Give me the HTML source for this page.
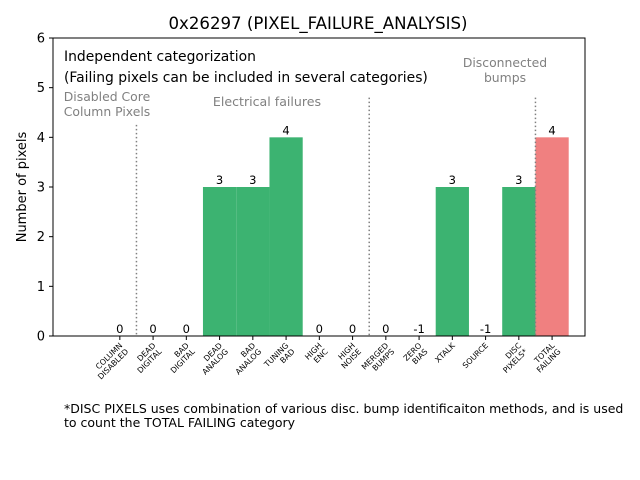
<!DOCTYPE html>
<html><head><meta charset="utf-8"><style>body{margin:0;background:#fff}svg{display:block;font-family:"DejaVu Sans","Liberation Sans",sans-serif}</style></head>
<body>
<svg id="c" width="640" height="480">
<rect width="640" height="480" fill="#fff"/>
<text x="318" y="29" font-size="16.6" text-anchor="middle">0x26297 (PIXEL_FAILURE_ANALYSIS)</text>
<g id="plot"></g>
<rect x="53" y="38" width="532" height="298" fill="none" stroke="#000" stroke-width="1"/>
<text x="0" y="0" font-size="13" text-anchor="middle" transform="translate(26,187) rotate(-90)">Number of pixels</text>
<text x="64" y="61" font-size="13.9">Independent categorization</text>
<text x="64" y="82" font-size="13.9">(Failing pixels can be included in several categories)</text>
<text x="107" y="101" font-size="12.4" fill="#808080" text-anchor="middle"><tspan x="107">Disabled Core</tspan><tspan x="107" dy="15">Column Pixels</tspan></text>
<text x="267" y="106" font-size="12.6" fill="#808080" text-anchor="middle">Electrical failures</text>
<text x="505" y="67" font-size="12.4" fill="#808080" text-anchor="middle"><tspan x="505">Disconnected</tspan><tspan x="505" dy="15">bumps</tspan></text>
<text x="64" y="413" font-size="12.5"><tspan x="64">*DISC PIXELS uses combination of various disc. bump identificaiton methods, and is used</tspan><tspan x="64" dy="14">to count the TOTAL FAILING category</tspan></text>
</svg>
<script>
const categories=[["COLUMN","DISABLED"],["DEAD","DIGITAL"],["BAD","DIGITAL"],["DEAD","ANALOG"],["BAD","ANALOG"],["TUNING","BAD"],["HIGH","ENC"],["HIGH","NOISE"],["MERGED","BUMPS"],["ZERO","BIAS"],["XTALK"],["SOURCE"],["DISC","PIXELS*"],["TOTAL","FAILING"]];
const values=[0,0,0,3,3,4,0,0,0,-1,3,-1,3,4];
const yTicks=[0,1,2,3,4,5,6];
const dividers=[0.5,7.5,12.5];
const dividerTops=[4.25,4.8,4.8];
const NS="http://www.w3.org/2000/svg";
const g=document.getElementById('plot');
const X0=53,X1=585,Y0=336,Y1=38;
const xs=i=>X0+(i+2.01)/16*(X1-X0);
const ys=v=>Y0-(v-0)/6*(Y0-Y1);
const bw=33.25;
function mk(t,a){const e=document.createElementNS(NS,t);for(const k in a)e.setAttribute(k,a[k]);g.appendChild(e);return e;}
values.forEach((v,i)=>{
  if(v>0){const r=mk('rect',{x:xs(i)-bw/2,y:ys(v),width:bw,height:ys(0)-ys(v),fill:i===values.length-1?'#f08080':'#3cb371'});
  
  }
  const t=mk('text',{x:xs(i),y:ys(Math.max(v,0))-3,'font-size':11.5,'text-anchor':'middle'});t.textContent=v;
  
  
  const tk=mk('line',{x1:xs(i),x2:xs(i),y1:Y0,y2:Y0+4,stroke:'#000'});
  
  
  const lab=categories[i];
  const tx=mk('text',{'font-size':7.8,'text-anchor':'end',transform:`translate(${xs(i)+3},${Y0+10}) rotate(-45)`});
  lab.forEach((s,j)=>{const sp=document.createElementNS(NS,'tspan');sp.setAttribute('x',0);sp.setAttribute('y',j*8.5);sp.textContent=s;tx.appendChild(sp);});
  
  
});
yTicks.forEach(v=>{
  const l=mk('line',{x1:X0-4,x2:X0,y1:ys(v),y2:ys(v),stroke:'#000'});
  
  
  const t=mk('text',{x:X0-8,y:ys(v)+4.5,'font-size':13,'text-anchor':'end'});t.textContent=v;
  
  
});
dividers.forEach((d,k)=>{
  const l=mk('line',{x1:xs(d),x2:xs(d),y1:ys(dividerTops[k]),y2:Y0,stroke:'#808080','stroke-width':1.5,'stroke-dasharray':'1.5,2.5'});
  
  
});
</script>
</body></html>
